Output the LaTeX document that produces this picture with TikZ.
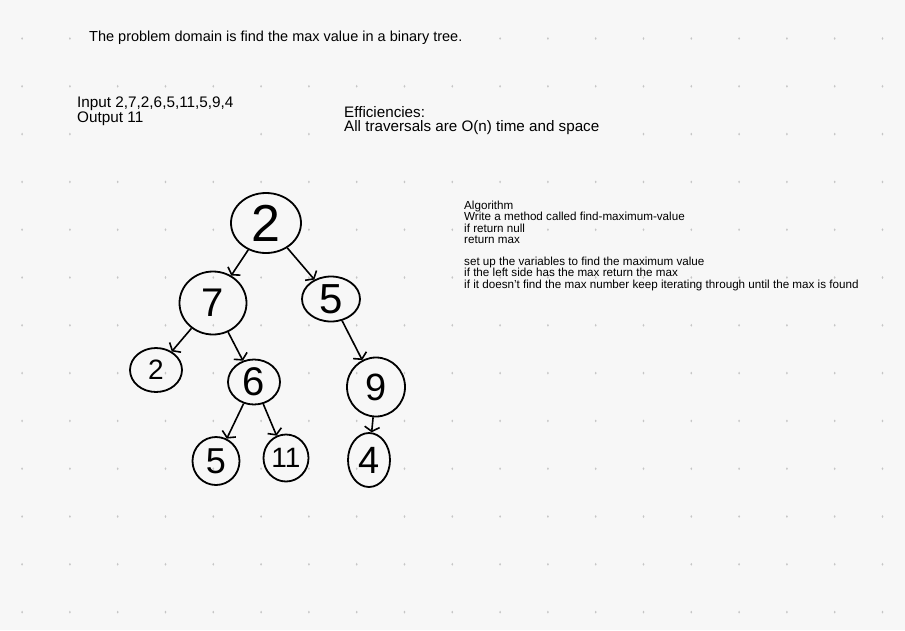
\documentclass[tikz,border=0pt]{standalone}
\usepackage{fontspec}
\setmainfont{Liberation Sans}
\definecolor{boardgray}{HTML}{F7F7F7}
\definecolor{dotgray}{HTML}{C6C6C6}
\usetikzlibrary{arrows.meta,shapes.geometric}

\begin{document}
\begin{tikzpicture}[
    x=1pt, y=-1pt,
    note/.style={anchor=base west, align=left, inner sep=0pt, fill=boardgray,
                 font=\fontsize{15.3}{15}\selectfont},
    algo/.style={anchor=base west, align=left, inner sep=0pt,
                 font=\fontsize{11.65}{11.2}\selectfont},
    treenode/.style={ellipse, draw, line width=1.8pt, inner sep=0pt,
                     font=\fontsize{#1}{#1}\selectfont},
    arrow/.style={-{Straight Barb[length=4.5pt,width=15pt]}, line width=1.6pt}
]

% ── Board ──
\useasboundingbox (0,0) rectangle (905,630);
\fill[boardgray] (0,0) rectangle (905,630);
\foreach \col in {0,...,18}
  \foreach \row in {0,...,12}
    \fill[dotgray] ({22.1+47.8*\col},{38.5+47.8*\row}) ellipse (0.9pt and 1.4pt);

% ── Notes ──
\node[note, font=\fontsize{14.5}{16}\selectfont] (domain) at (89,41)
    {The problem domain is find the max value in a binary tree.};
\node[note, text depth=14pt] (io) at (77,122.3)
    {Input 2,7,2,6,5,11,5,9,4\\Output 11};
\node[note, text depth=6pt, font=\fontsize{15.2}{13.7}\selectfont] (eff) at (344,131)
    {Efficiencies:\\All traversals are O(n) time and space};
\node[algo] (steps) at (464,288)
    {Algorithm\\
     Write a method called find-maximum-value\\
     if return null\\
     return max\\[11.2pt]
     set up the variables to find the maximum value\\
     if the left side has the max return the max\\
     if it doesn't find the max number keep iterating through until the max is found};

% ── Tree ──
\node[treenode=52, minimum width=70pt, minimum height=60pt] (root) at (266,223) {2};
\node[treenode=40, minimum width=67pt, minimum height=63pt] (n7) at (213,303) {7};
\node[treenode=42, minimum width=58pt, minimum height=45pt] (n5) at (331,299) {5};
\node[treenode=28, minimum width=52pt, minimum height=44pt] (n2) at (156,370) {2};
\node[treenode=40, minimum width=52pt, minimum height=45pt] (n6) at (254,382) {6};
\node[treenode=38, minimum width=58pt, minimum height=59pt] (n9) at (376,387) {9};
\node[treenode=36, minimum width=47pt, minimum height=48pt] (n5b) at (216,461) {5};
\node[treenode=28, minimum width=45pt, minimum height=47pt] (n11) at (286,458) {11};
\node[treenode=38, minimum width=42pt, minimum height=54pt] (n4) at (369,460) {4};

% ── Arrows ──
\draw[arrow] (root) -- (n7);
\draw[arrow] (root) -- (n5);
\draw[arrow] (n7) -- (n2);
\draw[arrow] (n7) -- (n6);
\draw[arrow] (n5) -- (n9);
\draw[arrow] (n6) -- (n5b);
\draw[arrow] (n6) -- (n11);
\draw[arrow] (n9) -- (n4);

\end{tikzpicture}
\end{document}
